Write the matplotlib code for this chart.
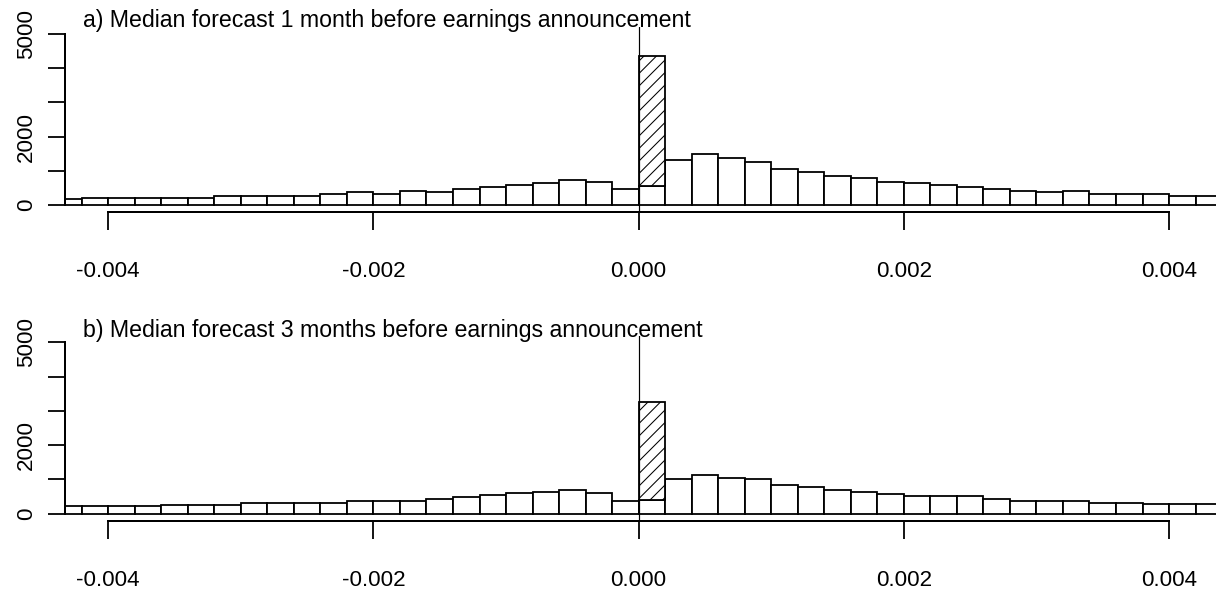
import numpy as np
import matplotlib
matplotlib.use("Agg")
import matplotlib.pyplot as plt

plt.rcParams['font.family'] = ['Liberation Sans', 'DejaVu Sans']
plt.rcParams['hatch.linewidth'] = 1.0

# ---- data ----
bin_width = 0.0002
bin_left = np.round(np.arange(-0.0044, 0.0044 - 1e-9, bin_width), 5)

titles = ["a) Median forecast 1 month before earnings announcement",
          "b) Median forecast 3 months before earnings announcement"]

neg_a = [170, 205, 205, 205, 205, 205, 263, 263, 263, 263, 320, 370, 320, 420,
         370, 475, 535, 585, 640, 740, 680, 475]
zero_a = 565
zero_total_a = 4360
pos_a = [1316, 1481, 1364, 1267, 1053, 955, 848, 789, 682, 633, 585, 526, 478,
         419, 370, 419, 322, 322, 322, 263, 263]

neg_b = [215, 215, 215, 215, 264, 264, 264, 322, 322, 322, 322, 381, 381, 381,
         430, 488, 537, 596, 645, 693, 596, 381]
zero_b = 410
zero_total_b = 3270
pos_b = [1006, 1123, 1055, 1006, 850, 791, 693, 635, 586, 527, 527, 527, 430,
         381, 381, 381, 322, 322, 273, 273, 273]

x_ticks = [-0.004, -0.002, 0.0, 0.002, 0.004]
x_labels = ["-0.004", "-0.002", "0.000", "0.002", "0.004"]
y_ticks = [0, 1000, 2000, 3000, 4000, 5000]
y_labels = ["0", "", "2000", "", "", "5000"]

panels = [
    (titles[0], neg_a, zero_a, zero_total_a, pos_a),
    (titles[1], neg_b, zero_b, zero_total_b, pos_b),
]

# ---- layout (pixels) ----
W, H = 1216, 597
DPI = 75
fig = plt.figure(figsize=(W / DPI, H / DPI), dpi=DPI)

def px(v):
    return v * 72.0 / DPI

left_px = 65
right_px = W
x_lo = -0.004326
px_per_unit = 132600.0
x_hi = x_lo + (right_px - left_px) / px_per_unit

tops = [27, 335.5]
bottoms = [212, 520.5]
title_base = [27, 337]
FS = 21.5
FS_T = 22.2

for i, (title, neg, zero_w, zero_tot, pos) in enumerate(panels):
    ax = fig.add_axes([left_px / W, 1 - bottoms[i] / H,
                       (right_px - left_px) / W, (bottoms[i] - tops[i]) / H])
    counts = list(neg) + [zero_w] + list(pos)
    ax.bar(bin_left, counts, width=bin_width, align='edge',
           facecolor='white', edgecolor='black', linewidth=px(1.8))
    ax.bar([0.0], [zero_tot - zero_w], bottom=[zero_w], width=bin_width,
           align='edge', facecolor='white', edgecolor='black',
           linewidth=px(1.8), hatch='//')
    ax.axvline(0, color='black', linewidth=px(1.2))

    ax.set_xlim(x_lo, x_hi)
    ax.set_ylim(-200, 5200)
    for s in ['top', 'right']:
        ax.spines[s].set_visible(False)
    ax.spines['left'].set_bounds(0, 5000)
    ax.spines['bottom'].set_bounds(-0.004, 0.004)
    for s in ['left', 'bottom']:
        ax.spines[s].set_linewidth(px(2.0))
    ax.set_xticks(x_ticks)
    ax.set_xticklabels(x_labels, fontsize=FS)
    ax.set_yticks(y_ticks)
    ax.set_yticklabels(y_labels, fontsize=FS, rotation=90, va='center')
    ax.tick_params(axis='x', direction='out', length=px(18), width=px(1.8),
                   pad=px(31))
    ax.tick_params(axis='y', direction='out', length=px(17), width=px(1.8),
                   pad=px(11))
    ax.patch.set_alpha(0)

    fig.text(82.7 / W, 1 - title_base[i] / H, title, fontsize=FS_T,
             ha='left', va='baseline')

fig.savefig("out.png", dpi=DPI, facecolor='white')
